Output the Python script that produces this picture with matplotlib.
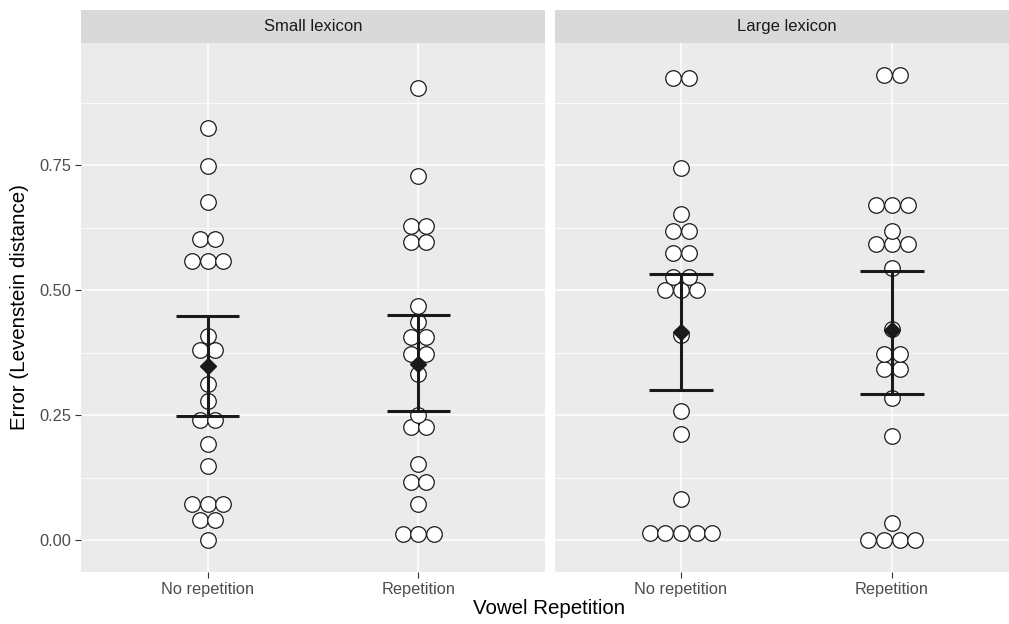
import numpy as np
import matplotlib.pyplot as plt
from matplotlib.transforms import blended_transform_factory

plt.rcParams['font.family'] = ['Liberation Sans', 'DejaVu Sans']

panels = ["Small lexicon", "Large lexicon"]
conditions = ["No repetition", "Repetition"]

# dot values (equal values stack side by side)
small_norep = [0.824, 0.749, 0.677, 0.603, 0.603, 0.559, 0.559, 0.559,
               0.408, 0.380, 0.380, 0.312, 0.278, 0.240, 0.240, 0.193,
               0.148, 0.073, 0.073, 0.073, 0.041, 0.041, 0.0]
small_rep = [0.905, 0.728, 0.629, 0.629, 0.597, 0.597, 0.468, 0.436,
             0.407, 0.407, 0.373, 0.373, 0.332, 0.250, 0.227, 0.227,
             0.152, 0.117, 0.117, 0.072, 0.013, 0.013, 0.013]
large_norep = [0.925, 0.925, 0.745, 0.652, 0.619, 0.619, 0.575, 0.575,
               0.527, 0.527, 0.500, 0.500, 0.500, 0.411, 0.258, 0.212,
               0.082, 0.014, 0.014, 0.014, 0.014, 0.014]
large_rep = [0.931, 0.931, 0.671, 0.671, 0.671, 0.619, 0.592, 0.592,
             0.592, 0.545, 0.423, 0.373, 0.373, 0.342, 0.342, 0.285,
             0.208, 0.035, 0.0, 0.0, 0.0, 0.0]

# summary: mean and interval
means = [[0.349, 0.352], [0.417, 0.420]]
lower = [[0.249, 0.258], [0.300, 0.292]]
upper = [[0.449, 0.451], [0.533, 0.539]]

data = [[small_norep, small_rep], [large_norep, large_rep]]

W, H = 1009, 624
fig = plt.figure(figsize=(W / 100, H / 100), dpi=100)

panel_px = [(81, 545, (0.4, 2.6)), (555, 1009, (0.403, 2.555))]
top, bottom, strip_top = 43, 572, 10

dot_px = 15.7
dark = "#1a1a1a"

for p in range(2):
    l, r, xl = panel_px[p]
    ax = fig.add_axes([l / W, (H - bottom) / H, (r - l) / W, (bottom - top) / H])
    sax = fig.add_axes([l / W, (H - top) / H, (r - l) / W, (top - strip_top) / H])
    ax.set_facecolor("#EBEBEB")
    sax.set_facecolor("#D9D9D9")
    for s in sax.spines.values():
        s.set_visible(False)
    sax.set_xticks([])
    sax.set_yticks([])
    sax.set_xlim(xl)
    sax.text(1.5, 0.5, panels[p], ha="center", va="center", fontsize=12,
             color="#1A1A1A")

    ax.set_xlim(xl)
    ax.set_ylim(-0.064, 0.994)
    for s in ax.spines.values():
        s.set_visible(False)
    for y in [0.125, 0.375, 0.625, 0.875]:
        ax.axhline(y, color="white", lw=0.55, zorder=0)
    for y in [0, 0.25, 0.5, 0.75]:
        ax.axhline(y, color="white", lw=1.1, zorder=0)
    for x in [1, 2]:
        ax.axvline(x, color="white", lw=1.1, zorder=0)

    px_per_unit = (r - l) / (xl[1] - xl[0])
    step = dot_px / px_per_unit
    for c in range(2):
        vals = np.array(data[p][c])
        uniq = sorted(set(vals))
        for v in uniq:
            n = int(np.sum(vals == v))
            xs = c + 1 + (np.arange(n) - (n - 1) / 2) * step
            ax.plot(xs, [v] * n, "o", ms=11.2, mfc="white", mec=dark,
                    mew=0.9, zorder=2, ls="none")
        x0 = c + 1
        ax.plot([x0, x0], [lower[p][c], upper[p][c]], color=dark, lw=2.2,
                zorder=3, solid_capstyle="butt")
        for yv in [lower[p][c], upper[p][c]]:
            ax.plot([x0 - 0.15, x0 + 0.15], [yv, yv], color=dark, lw=2.2,
                    zorder=3, solid_capstyle="butt")
        ax.plot([x0], [means[p][c]], "D", ms=8.4, color=dark, zorder=4)

    ax.set_xticks([1, 2])
    ax.set_xticklabels(conditions, fontsize=11.8, color="#4D4D4D")
    ax.tick_params(axis="both", length=4, width=0.8, color="#333333", pad=3)
    if p == 0:
        ax.set_yticks([0, 0.25, 0.5, 0.75])
        ax.set_yticklabels(["0.00", "0.25", "0.50", "0.75"], fontsize=11.8,
                           color="#4D4D4D")
    else:
        ax.set_yticks([])

fig.text(20 / W, 1 - 307 / H, "Error (Levenstein distance)", rotation=90,
         ha="center", va="center", fontsize=14.8)
fig.text(549 / W, 1 - 609 / H, "Vowel Repetition", ha="center", va="center",
         fontsize=14.8)

fig.savefig("out.png", dpi=100)
